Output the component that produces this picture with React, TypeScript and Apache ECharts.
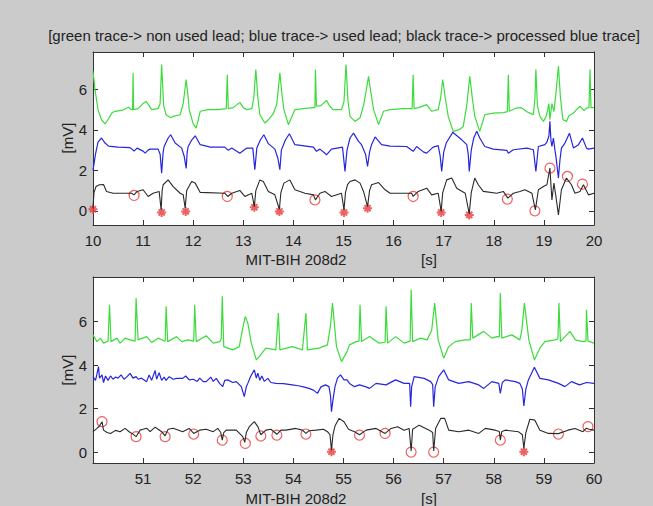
import React, { useEffect, useRef } from 'react';
import * as echarts from 'echarts';

const TITLE = '[green trace-> non used lead; blue trace-> used lead; black trace-> processed blue trace]';
const X_LABEL = 'MIT-BIH 208d2';
const X_UNIT = '[s]';
const Y_LABEL = '[mV]';
const Y_TICKS = [0, 2, 4, 6];
const TOP_X = [10, 20];
const BOTTOM_X = [50, 60];
const TOP_Y = [-0.7, 7.85];
const BOTTOM_Y = [-0.5, 8.05];

type P = [number, number];

const topGreen: P[] = [
  [10.0, 6.9], [10.04, 6.0], [10.1, 5.0], [10.17, 4.5], [10.24, 4.3], [10.31, 4.55], [10.38, 4.85], [10.44, 4.92],
  [10.6, 4.98], [10.71, 5.12], [10.76, 5.0], [10.79, 5.0], [10.8, 6.82], [10.81, 5.0], [10.9, 5.05], [11.0, 5.3],
  [11.06, 5.41], [11.12, 5.2], [11.17, 5.0], [11.3, 5.05], [11.34, 5.3], [11.37, 7.23], [11.41, 5.2], [11.46, 4.75],
  [11.55, 4.6], [11.6, 4.67], [11.74, 4.75], [11.8, 5.3], [11.86, 6.49], [11.9, 5.6], [11.92, 5.0], [12.0, 4.3],
  [12.06, 4.09], [12.1, 4.5], [12.14, 4.92], [12.3, 5.0], [12.5, 5.0], [12.66, 5.05], [12.68, 6.73], [12.7, 5.05],
  [12.8, 5.1], [12.93, 5.36], [13.0, 5.1], [13.07, 5.0], [13.17, 5.05], [13.21, 5.6], [13.25, 6.98], [13.29, 5.6],
  [13.33, 4.75], [13.43, 4.34], [13.5, 4.5], [13.6, 4.8], [13.67, 5.3], [13.73, 6.82], [13.77, 5.8], [13.81, 5.0],
  [13.9, 4.26], [13.96, 4.6], [14.03, 5.0], [14.2, 5.05], [14.4, 5.1], [14.43, 5.1], [14.44, 6.98], [14.46, 5.17],
  [14.55, 5.2], [14.66, 5.46], [14.72, 5.2], [14.79, 5.0], [14.96, 5.0], [15.01, 5.4], [15.05, 7.23], [15.09, 5.4],
  [15.13, 4.67], [15.23, 4.42], [15.33, 4.6], [15.4, 5.2], [15.45, 5.9], [15.5, 6.65], [15.55, 5.8], [15.6, 5.0],
  [15.7, 4.26], [15.8, 4.92], [15.93, 5.0], [16.2, 5.05], [16.37, 5.05], [16.39, 6.73], [16.41, 5.05], [16.5, 5.1],
  [16.66, 5.25], [16.76, 4.92], [16.89, 5.0], [16.94, 5.6], [16.98, 6.49], [17.03, 5.6], [17.09, 4.67], [17.19, 3.93],
  [17.3, 4.0], [17.39, 4.17], [17.46, 5.2], [17.52, 6.65], [17.57, 5.6], [17.62, 4.67], [17.72, 3.93], [17.82, 4.75],
  [17.99, 4.83], [18.19, 4.85], [18.27, 4.9], [18.29, 6.73], [18.31, 4.92], [18.45, 5.08], [18.55, 5.1], [18.66, 4.9],
  [18.72, 4.83], [18.79, 4.75], [18.82, 5.5], [18.84, 6.98], [18.87, 5.2], [18.92, 4.67], [18.99, 4.42], [19.05, 4.7],
  [19.1, 5.3], [19.12, 4.5], [19.16, 5.3], [19.2, 4.9], [19.24, 5.8], [19.29, 7.15], [19.33, 5.6], [19.38, 4.5],
  [19.45, 4.42], [19.5, 4.7], [19.59, 4.83], [19.65, 5.0], [19.72, 5.17], [19.8, 4.95], [19.85, 5.08], [19.9, 5.1],
  [19.92, 6.98], [19.94, 5.1], [20.0, 5.1],
];

const topBlue: P[] = [
  [10.0, 2.0], [10.05, 2.8], [10.1, 3.4], [10.17, 3.6], [10.24, 3.35], [10.31, 3.2], [10.5, 3.15], [10.74, 3.12],
  [10.8, 3.0], [10.82, 2.95], [10.88, 3.1], [11.0, 2.95], [11.04, 2.85], [11.1, 3.0], [11.14, 3.05], [11.3, 3.05],
  [11.34, 2.8], [11.37, 1.86], [11.4, 2.9], [11.42, 3.18], [11.5, 3.6], [11.55, 3.76], [11.64, 3.35], [11.77, 3.1],
  [11.82, 2.7], [11.86, 2.1], [11.88, 2.9], [11.9, 3.18], [11.97, 3.5], [12.04, 3.71], [12.14, 3.27], [12.34, 3.15],
  [12.63, 3.15], [12.7, 2.99], [12.77, 3.1], [12.9, 2.9], [12.93, 2.85], [13.07, 3.1], [13.19, 3.1], [13.23, 2.03],
  [13.27, 3.1], [13.34, 3.5], [13.41, 3.76], [13.5, 3.32], [13.63, 3.05], [13.69, 2.6], [13.73, 2.03], [13.76, 3.0],
  [13.84, 3.5], [13.92, 3.81], [14.03, 3.27], [14.4, 3.15], [14.46, 2.94], [14.53, 3.05], [14.63, 2.85], [14.66, 2.77],
  [14.76, 3.05], [14.98, 3.15], [15.03, 1.95], [15.07, 3.0], [15.13, 3.6], [15.2, 3.84], [15.3, 3.43], [15.36, 3.27],
  [15.44, 2.8], [15.48, 2.19], [15.52, 2.9], [15.56, 3.27], [15.63, 3.65], [15.76, 3.27], [15.93, 3.2], [16.26, 3.18],
  [16.39, 2.94], [16.46, 3.18], [16.6, 2.9], [16.66, 2.85], [16.79, 3.15], [16.89, 3.22], [16.93, 2.7], [16.96, 1.95],
  [17.0, 2.9], [17.05, 3.35], [17.18, 3.88], [17.36, 3.51], [17.46, 3.27], [17.49, 2.8], [17.51, 1.95], [17.55, 3.0],
  [17.6, 3.6], [17.66, 3.93], [17.72, 3.6], [17.82, 3.18], [17.99, 3.05], [18.26, 2.99], [18.29, 2.85], [18.39, 3.02],
  [18.66, 3.1], [18.79, 3.02], [18.84, 1.95], [18.89, 3.18], [19.02, 3.27], [19.06, 3.4], [19.1, 3.7], [19.12, 4.42],
  [19.14, 3.5], [19.16, 3.18], [19.19, 3.6], [19.22, 3.0], [19.24, 2.69], [19.29, 1.62], [19.32, 2.5], [19.35, 3.1],
  [19.42, 3.35], [19.51, 3.84], [19.59, 3.1], [19.69, 3.27], [19.77, 3.6], [19.85, 3.1], [19.89, 3.05], [20.0, 3.1],
];

const topBlack: P[] = [
  [10.0, 0.13], [10.02, 0.9], [10.06, 1.2], [10.13, 1.29], [10.21, 1.3], [10.27, 0.96], [10.4, 0.87], [10.77, 0.87],
  [10.82, 0.79], [10.88, 0.96], [11.0, 1.04], [11.1, 0.71], [11.2, 0.87], [11.32, 0.96], [11.36, 0.05], [11.38, 1.0],
  [11.4, 1.29], [11.5, 1.53], [11.6, 1.2], [11.74, 0.87], [11.8, 0.8], [11.84, 0.13], [11.87, 1.0], [11.97, 1.45],
  [12.04, 1.37], [12.14, 0.91], [12.63, 0.87], [12.69, 0.71], [12.77, 0.87], [12.93, 1.01], [13.03, 0.71], [13.17, 0.87],
  [13.22, 0.21], [13.25, 1.0], [13.33, 1.53], [13.4, 1.45], [13.5, 0.96], [13.63, 0.79], [13.72, 0.08], [13.75, 0.9],
  [13.81, 1.37], [13.93, 1.53], [14.03, 1.04], [14.23, 0.87], [14.4, 0.79], [14.44, 0.54], [14.53, 0.87], [14.63, 0.96],
  [14.76, 0.71], [14.96, 0.87], [15.01, 0.05], [15.04, 0.9], [15.08, 1.3], [15.13, 1.45], [15.23, 1.53], [15.33, 1.37],
  [15.4, 0.96], [15.48, 0.21], [15.52, 1.0], [15.56, 1.29], [15.7, 1.4], [15.83, 1.04], [15.93, 0.87], [16.36, 0.87],
  [16.39, 0.71], [16.49, 0.96], [16.66, 1.12], [16.76, 0.79], [16.89, 0.87], [16.95, -0.03], [16.98, 0.9], [17.06, 1.53],
  [17.16, 1.62], [17.26, 1.12], [17.43, 0.87], [17.51, -0.15], [17.55, 0.9], [17.62, 1.62], [17.69, 1.29], [17.79, 0.96],
  [18.06, 0.87], [18.19, 0.96], [18.28, 0.63], [18.39, 0.87], [18.52, 0.96], [18.62, 1.04], [18.76, 0.87], [18.83, 0.05],
  [18.89, 1.04], [18.99, 1.2], [19.06, 1.29], [19.12, 2.11], [19.16, 0.54], [19.2, 1.37], [19.24, 0.71], [19.29, -0.2],
  [19.35, 1.04], [19.45, 1.62], [19.55, 1.29], [19.62, 0.87], [19.72, 0.96], [19.79, 1.29], [19.89, 0.79], [20.0, 0.87],
];

const topCircles: P[] = [
  [10.82, 0.76], [12.68, 0.71], [14.43, 0.54], [16.39, 0.71], [18.27, 0.58], [18.82, 0.0], [19.12, 2.11], [19.47, 1.7], [19.77, 1.32],
];

const topStars: P[] = [
  [10.0, 0.08], [11.37, -0.08], [11.85, -0.03], [13.22, 0.18], [13.72, -0.03], [15.01, -0.08], [15.48, 0.13], [16.95, -0.08], [17.51, -0.2],
];

const bottomGreen: P[] = [
  [50.0, 5.39], [50.08, 5.08], [50.15, 5.24], [50.21, 5.01], [50.3, 5.1], [50.33, 6.77], [50.36, 5.08], [50.48, 5.24],
  [50.54, 5.01], [50.64, 5.24], [50.74, 5.16], [50.84, 5.1], [50.86, 7.08], [50.9, 5.16], [51.07, 5.31], [51.17, 5.04],
  [51.3, 5.24], [51.44, 5.1], [51.46, 6.7], [51.49, 5.08], [51.67, 5.31], [51.77, 5.08], [51.89, 5.16], [52.01, 5.1],
  [52.03, 6.77], [52.06, 5.08], [52.26, 5.35], [52.4, 5.01], [52.53, 5.08], [52.56, 5.2], [52.58, 7.16], [52.61, 4.85],
  [52.79, 4.7], [52.92, 4.85], [52.98, 5.6], [53.04, 6.24], [53.09, 5.93], [53.16, 5.01], [53.26, 4.24], [53.32, 4.39],
  [53.45, 4.78], [53.65, 4.7], [53.7, 6.39], [53.73, 4.7], [53.98, 4.85], [54.18, 4.7], [54.25, 6.39], [54.28, 4.7],
  [54.51, 4.78], [54.68, 4.93], [54.74, 5.8], [54.78, 6.85], [54.86, 4.85], [54.96, 4.16], [55.07, 4.62], [55.12, 4.93],
  [55.25, 5.08], [55.31, 5.1], [55.33, 6.77], [55.36, 5.08], [55.52, 5.31], [55.71, 5.01], [55.83, 5.05], [55.85, 6.7],
  [55.88, 5.01], [56.04, 5.31], [56.21, 5.01], [56.33, 5.1], [56.35, 7.47], [56.38, 5.08], [56.54, 5.24], [56.67, 5.16],
  [56.76, 5.6], [56.82, 6.85], [56.89, 5.16], [57.0, 4.32], [57.1, 4.85], [57.23, 5.08], [57.43, 5.16], [57.53, 5.16],
  [57.55, 6.85], [57.58, 5.24], [57.8, 5.55], [57.96, 5.24], [58.06, 5.31], [58.11, 5.3], [58.13, 7.31], [58.16, 5.24],
  [58.36, 5.39], [58.52, 5.16], [58.56, 5.6], [58.61, 6.85], [58.7, 5.16], [58.81, 4.24], [58.92, 4.78], [59.02, 5.08],
  [59.22, 5.16], [59.28, 5.2], [59.3, 6.85], [59.33, 5.08], [59.52, 5.55], [59.63, 5.16], [59.78, 5.08], [59.84, 5.1],
  [59.85, 6.54], [59.88, 5.1], [60.0, 5.01],
];

const bottomBlue: P[] = [
  [50.0, 3.47], [50.05, 3.3], [50.08, 3.6], [50.11, 3.93], [50.13, 3.4], [50.18, 3.55], [50.21, 3.2], [50.25, 3.5],
  [50.3, 3.3], [50.35, 3.5], [50.4, 3.35], [50.45, 3.45], [50.5, 3.4], [50.56, 3.55], [50.62, 3.35], [50.68, 3.47],
  [50.74, 3.62], [50.8, 3.4], [50.86, 3.47], [50.9, 3.35], [50.97, 3.4], [51.07, 3.24], [51.12, 3.55], [51.17, 3.3],
  [51.24, 3.75], [51.27, 3.35], [51.32, 3.65], [51.37, 3.3], [51.42, 3.45], [51.46, 3.3], [51.52, 3.47], [51.6, 3.35],
  [51.67, 3.39], [51.79, 3.39], [51.85, 3.5], [51.92, 3.32], [52.0, 3.35], [52.08, 3.25], [52.13, 3.4], [52.2, 3.24],
  [52.26, 3.24], [52.35, 3.45], [52.4, 3.25], [52.46, 3.39], [52.53, 3.15], [52.59, 3.01], [52.63, 3.3], [52.69, 3.32],
  [52.79, 3.2], [52.86, 3.24], [52.96, 3.01], [53.02, 2.55], [53.06, 3.0], [53.09, 3.16], [53.15, 3.5], [53.22, 3.78],
  [53.26, 3.4], [53.29, 3.63], [53.33, 3.3], [53.37, 3.5], [53.42, 3.25], [53.49, 3.39], [53.55, 3.2], [53.65, 3.16],
  [53.8, 3.15], [53.98, 3.09], [54.1, 3.05], [54.2, 3.0], [54.31, 2.93], [54.4, 2.85], [54.48, 2.7], [54.55, 3.0],
  [54.64, 3.09], [54.71, 3.01], [54.74, 2.6], [54.76, 1.86], [54.79, 2.4], [54.83, 3.01], [54.88, 3.4], [54.94, 3.55],
  [55.01, 3.32], [55.07, 3.32], [55.12, 3.16], [55.22, 3.01], [55.32, 3.09], [55.45, 3.0], [55.52, 2.93], [55.65, 3.16],
  [55.85, 3.09], [56.04, 3.32], [56.21, 3.16], [56.32, 3.16], [56.34, 2.09], [56.36, 3.0], [56.41, 3.47], [56.61, 3.39],
  [56.74, 3.24], [56.78, 3.1], [56.8, 2.09], [56.83, 3.0], [56.9, 3.47], [57.0, 3.78], [57.1, 3.32], [57.3, 3.16],
  [57.5, 3.24], [57.7, 3.09], [57.8, 2.93], [57.96, 3.24], [58.1, 3.16], [58.13, 2.7], [58.17, 3.2], [58.23, 3.32],
  [58.43, 3.24], [58.52, 3.16], [58.57, 2.9], [58.6, 2.12], [58.64, 2.9], [58.69, 3.32], [58.81, 3.9], [58.92, 3.39],
  [59.09, 3.32], [59.29, 3.16], [59.42, 3.01], [59.55, 3.24], [59.71, 3.09], [59.85, 3.2], [60.0, 3.16],
];

const bottomBlack: P[] = [
  [50.0, 0.94], [50.08, 1.09], [50.13, 1.2], [50.18, 1.4], [50.21, 1.01], [50.28, 0.9], [50.35, 0.86], [50.45, 1.0],
  [50.54, 0.94], [50.64, 1.09], [50.74, 0.9], [50.78, 0.86], [50.86, 0.71], [50.94, 1.01], [51.0, 1.05], [51.07, 1.1],
  [51.14, 0.94], [51.24, 1.15], [51.3, 1.05], [51.37, 0.94], [51.44, 0.75], [51.5, 1.05], [51.6, 1.1], [51.79, 0.94],
  [51.92, 1.09], [52.01, 0.86], [52.13, 1.01], [52.26, 1.05], [52.4, 0.94], [52.49, 1.09], [52.55, 0.9], [52.58, 0.55],
  [52.61, 0.9], [52.66, 1.01], [52.86, 1.01], [52.99, 0.71], [53.03, 0.45], [53.06, 0.9], [53.12, 1.17], [53.22, 1.4],
  [53.29, 1.17], [53.35, 0.8], [53.45, 1.01], [53.55, 1.05], [53.67, 0.82], [53.75, 1.01], [53.85, 1.01], [54.05, 1.09],
  [54.18, 1.01], [54.25, 0.86], [54.31, 0.98], [54.45, 1.01], [54.6, 1.05], [54.68, 0.94], [54.73, 0.8], [54.76, 0.09],
  [54.79, 0.8], [54.83, 1.2], [54.91, 1.55], [55.01, 1.4], [55.1, 1.05], [55.22, 0.94], [55.32, 0.8], [55.45, 1.01],
  [55.65, 1.09], [55.83, 0.86], [55.95, 1.09], [56.08, 1.17], [56.21, 1.01], [56.31, 1.09], [56.35, 0.05], [56.38, 1.05],
  [56.51, 1.24], [56.71, 1.01], [56.78, 0.9], [56.8, 0.05], [56.84, 1.1], [56.94, 1.55], [57.02, 1.55], [57.1, 1.01],
  [57.3, 0.94], [57.5, 1.01], [57.7, 0.86], [57.83, 1.09], [58.03, 1.01], [58.11, 0.95], [58.13, 0.55], [58.16, 0.95],
  [58.23, 1.01], [58.49, 0.94], [58.57, 0.8], [58.6, 0.17], [58.64, 0.9], [58.72, 1.51], [58.82, 1.47], [58.92, 1.01],
  [59.09, 0.86], [59.29, 0.85], [59.48, 1.01], [59.62, 1.09], [59.78, 0.94], [59.85, 1.1], [59.9, 1.05], [60.0, 1.01],
];

const bottomCircles: P[] = [
  [50.18, 1.4], [50.86, 0.71], [51.44, 0.71], [52.01, 0.83], [52.58, 0.55], [53.04, 0.4], [53.35, 0.74], [53.67, 0.78],
  [54.25, 0.83], [55.32, 0.78], [55.83, 0.86], [56.35, 0.0], [56.8, 0.0], [58.13, 0.55], [59.29, 0.83], [59.88, 1.17],
];

const bottomStars: P[] = [[54.76, 0.02], [58.6, 0.02]];

const FONT = 'Liberation Sans, Arial, sans-serif';
const FONT_SIZE = 15;
const AXIS_COLOR = '#333333';
const GREEN = '#3cdc3c';
const BLUE = '#2626dc';
const BLACK = '#2a2a2a';
const RED = '#e83a3a';
const STAR = 'path://M5,0L5,10M0,5L10,5M1.6,1.6L8.4,8.4M1.6,8.4L8.4,1.6';

function xAxes(gridIndex: number, range: number[], hideFirst: boolean) {
  const base = {
    type: 'value', gridIndex, min: range[0], max: range[1], interval: 1,
    axisLine: { show: true, onZero: false, lineStyle: { color: AXIS_COLOR, width: 1 } },
    axisTick: { show: true, inside: true, length: 5, lineStyle: { color: AXIS_COLOR } },
    splitLine: { show: false },
  };
  return [
    {
      ...base, position: 'bottom',
      axisLabel: {
        fontSize: FONT_SIZE, color: '#222', margin: 8, fontFamily: FONT,
        formatter: (v: number) => (hideFirst && v === range[0] ? '' : String(v)),
      },
    },
    { ...base, position: 'top', axisLabel: { show: false } },
  ];
}

function yAxes(gridIndex: number, range: number[]) {
  const base = {
    type: 'value', gridIndex, min: range[0], max: range[1],
    axisLine: { show: true, onZero: false, lineStyle: { color: AXIS_COLOR, width: 1 } },
    axisTick: { show: true, inside: true, length: 5, customValues: Y_TICKS, lineStyle: { color: AXIS_COLOR } },
    splitLine: { show: false },
  };
  return [
    {
      ...base, position: 'left',
      axisLabel: { customValues: Y_TICKS, fontSize: FONT_SIZE, color: '#222', margin: 6, fontFamily: FONT },
    },
    { ...base, position: 'right', axisLabel: { show: false } },
  ];
}

function traces(xi: number, yi: number, green: P[], blue: P[], black: P[], circles: P[], stars: P[]) {
  const line = (data: P[], color: string, width: number) => ({
    type: 'line', xAxisIndex: xi, yAxisIndex: yi, data, showSymbol: false, symbol: 'none',
    lineStyle: { color, width }, silent: true, clip: true,
  });
  return [
    line(green, GREEN, 1.2),
    line(blue, BLUE, 1.2),
    line(black, BLACK, 1.1),
    {
      type: 'scatter', xAxisIndex: xi, yAxisIndex: yi, data: circles, symbol: 'circle', symbolSize: 10,
      itemStyle: { color: 'rgba(255,255,255,0)', borderColor: RED, borderWidth: 1.2 }, silent: true,
    },
    {
      type: 'scatter', xAxisIndex: xi, yAxisIndex: yi, data: stars, symbol: STAR, symbolSize: 9,
      itemStyle: { color: RED, borderColor: RED, borderWidth: 2 }, silent: true,
    },
  ];
}

function text(x: number, y: number, t: string, rotation = 0) {
  return {
    type: 'text', x, y, rotation, silent: true,
    style: { text: t, fontSize: FONT_SIZE, fontFamily: FONT, fill: '#222', align: 'center', verticalAlign: 'middle' },
  };
}

export default function App() {
  const ref = useRef<HTMLDivElement>(null);
  useEffect(() => {
    if (!ref.current) return;
    const chart = echarts.init(ref.current, undefined, { renderer: 'svg' });
    chart.setOption({
      animation: false,
      backgroundColor: '#cbcbcb',
      grid: [
        { left: 93, top: 52, width: 501, height: 173, show: true, backgroundColor: '#ffffff', borderWidth: 0 },
        { left: 93, top: 277, width: 501, height: 186, show: true, backgroundColor: '#ffffff', borderWidth: 0 },
      ],
      xAxis: [...xAxes(0, TOP_X, false), ...xAxes(1, BOTTOM_X, true)],
      yAxis: [...yAxes(0, TOP_Y), ...yAxes(1, BOTTOM_Y)],
      series: [
        ...traces(0, 0, topGreen, topBlue, topBlack, topCircles, topStars),
        ...traces(2, 2, bottomGreen, bottomBlue, bottomBlack, bottomCircles, bottomStars),
      ],
      graphic: [
        text(344, 35, TITLE),
        text(296, 259, X_LABEL), text(429, 259, X_UNIT),
        text(296, 498, X_LABEL), text(429, 498, X_UNIT),
        text(67, 138, Y_LABEL, Math.PI / 2),
        text(67, 370, Y_LABEL, Math.PI / 2),
      ],
    });
    return () => chart.dispose();
  }, []);
  return <div ref={ref} style={{ position: 'fixed', left: 0, top: 0, width: 653, height: 506 }} />;
}
